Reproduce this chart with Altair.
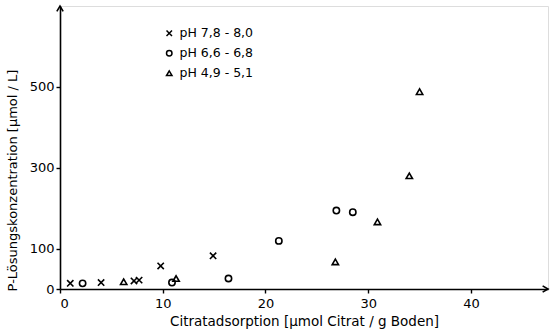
import altair as alt
import pandas as pd

# Data
x_high = [1.0, 4.0, 7.2, 7.7, 9.8, 14.9]
y_high = [14, 16, 20, 22, 57, 82]
x_mid = [2.2, 10.9, 16.4, 21.3, 26.9, 28.5]
y_mid = [14, 16, 26, 119, 194, 190]
x_low = [6.2, 11.3, 26.8, 30.9, 34.0, 35.0]
y_low = [18, 26, 67, 166, 280, 488]

series = ["pH 7,8 - 8,0", "pH 6,6 - 6,8", "pH 4,9 - 5,1"]
x_ticks = [0, 10, 20, 30, 40]
y_ticks = [0, 100, 300, 500]
x_max = 47.5
y_max = 700

FONT = "DejaVu Sans"

rows = []
for name, xs, ys in zip(series, [x_high, x_mid, x_low], [y_high, y_mid, y_low]):
    for a, b in zip(xs, ys):
        rows.append({"x": a, "y": b, "serie": name})
df = pd.DataFrame(rows)

X_PATH = "M-1,-1L1,1M-1,1L1,-1"
shape_scale = alt.Scale(domain=series, range=[X_PATH, "circle", "triangle-up"])

xscale = alt.Scale(domain=[0, x_max], nice=False, zero=True)
yscale = alt.Scale(domain=[0, y_max], nice=False, zero=True)

points = alt.Chart(df).mark_point(
    filled=False, color="black", strokeWidth=1.6, size=40, opacity=1
).encode(
    x=alt.X("x:Q", scale=xscale,
            axis=alt.Axis(values=x_ticks, title="Citratadsorption [µmol Citrat / g Boden]",
                          grid=False, domainColor="black", domainWidth=1.6,
                          tickColor="black", tickWidth=1.4, tickSize=4,
                          labelFont=FONT, labelFontSize=13, labelColor="black",
                          labelPadding=4, titleFont=FONT, titleFontSize=13.5,
                          titleFontWeight="normal", titleColor="black", titlePadding=4)),
    y=alt.Y("y:Q", scale=yscale,
            axis=alt.Axis(values=y_ticks, title="P-Lösungskonzentration [µmol / L]",
                          grid=False, domainColor="black", domainWidth=1.6,
                          tickColor="black", tickWidth=1.4, tickSize=4,
                          labelFont=FONT, labelFontSize=13, labelColor="black",
                          labelPadding=2, titleFont=FONT, titleFontSize=13,
                          titleFontWeight="normal", titleColor="black",
                          titleX=-48, titleY=174, titleBaseline="middle")),
    shape=alt.Shape("serie:N", scale=shape_scale,
                    legend=alt.Legend(title=None, orient="none", legendX=103, legendY=21,
                                      labelFont=FONT, labelFontSize=12.5, labelColor="black",
                                      symbolStrokeColor="black", symbolStrokeWidth=1.5,
                                      symbolFillColor="transparent", symbolSize=30,
                                      rowPadding=7, labelOffset=4, padding=0)),
)

arrows_df = pd.DataFrame({
    "x": [0, x_max],
    "y": [y_max, 0],
    "kind": ["up", "right"],
})
arrows = alt.Chart(arrows_df).mark_point(
    filled=False, color="black", strokeWidth=1.6, size=40, opacity=1
).encode(
    x=alt.X("x:Q", scale=xscale),
    y=alt.Y("y:Q", scale=yscale),
    shape=alt.Shape("kind:N", scale=alt.Scale(domain=["up", "right"],
                                              range=["M-1,1.7L0,0L1,1.7", "M-1.7,-1L0,0L-1.7,1"]),
                    legend=None),
)

chart = alt.layer(points, arrows).resolve_scale(shape="independent").properties(
    width=488, height=283,
    autosize=alt.AutoSizeParams(type="none"),
    padding={"left": 60, "top": 6, "right": 3, "bottom": 45},
).configure_view(stroke=None).configure(background="white")

chart.save("out.html", embed_options={"renderer": "svg", "actions": False})
